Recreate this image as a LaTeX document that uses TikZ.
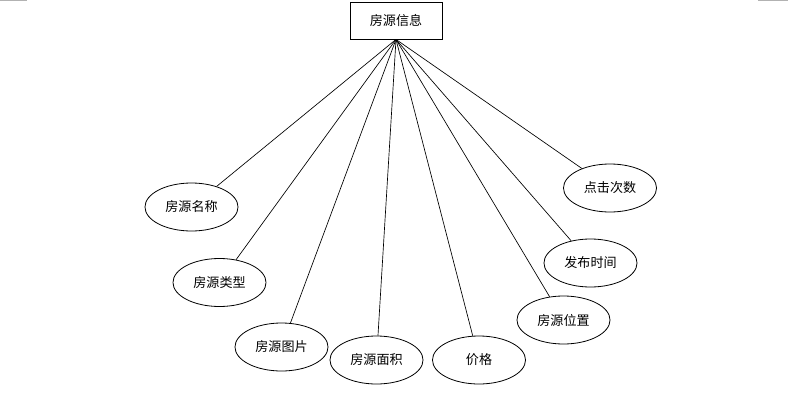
\documentclass[tikz,border=0pt]{standalone}
\usepackage{fontspec}
\newfontfamily\cjk{Noto Sans CJK SC}
\usetikzlibrary{shapes.geometric}
\definecolor{cornergray}{gray}{0.70}

\begin{document}
\begin{tikzpicture}[
  x=0.75pt, y=-0.75pt,
  font=\cjk\fontsize{9.8pt}{11pt}\selectfont,
  entity/.style={draw, line width=.6pt, minimum width=69pt, minimum height=27.8pt,
                 inner sep=0pt},
  attr/.style={draw, ellipse, line width=.6pt, minimum width=69.8pt,
               minimum height=36pt, inner sep=0pt},
  link/.style={line width=.5pt},
]
\useasboundingbox (0,0) rectangle (804,400);
% page corner marks
\draw[draw=cornergray, line width=.8pt] (0,0.5) -- (27,0.5);
\draw[draw=cornergray, line width=.8pt] (758,0.5) -- (788,0.5);

\node[entity] (house) at (396,20.5) {房源信息};

\node[attr] (name)  at (191.5,207) {房源名称};
\node[attr] (type)  at (219.5,282.5) {房源类型};
\node[attr] (pic)   at (281.5,347) {房源图片};
\node[attr] (area)  at (376.5,360) {房源面积};
\node[attr] (price) at (479,360) {价格};
\node[attr] (loc)   at (563.5,320) {房源位置};
\node[attr] (time)  at (590.5,263) {发布时间};
\node[attr] (hits)  at (610,188) {点击次数};

\foreach \a in {name,type,pic,area,price,loc,time,hits}
  \draw[link] (house.south) -- (\a);
\end{tikzpicture}
\end{document}
